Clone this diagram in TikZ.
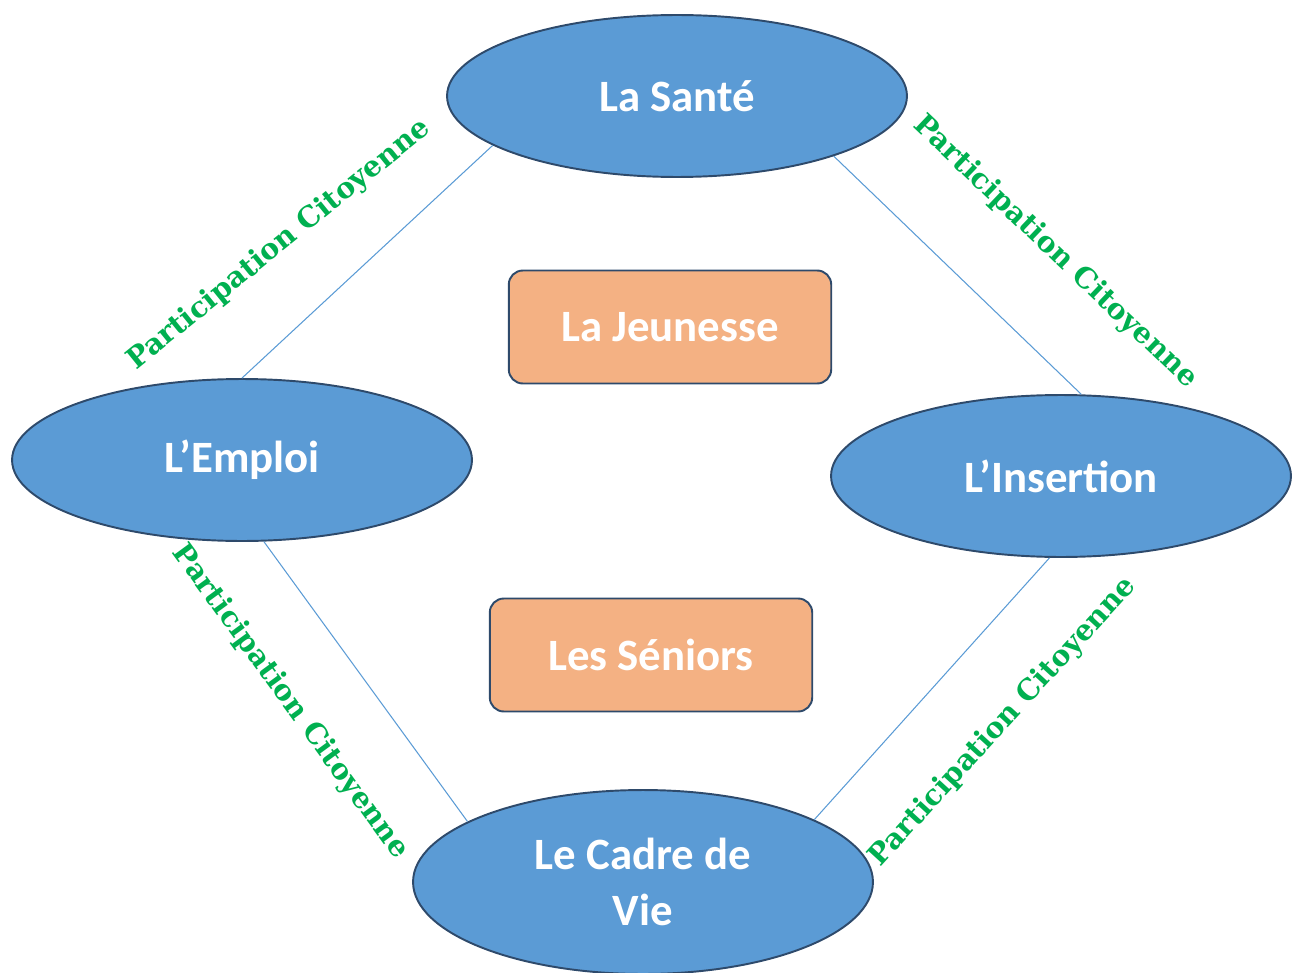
\documentclass[tikz,border=0pt]{standalone}
\usepackage{fontspec}
\setmainfont{Carlito}
\newfontfamily\citfont{DejaVu Serif}
\usepackage{tikz}
\usetikzlibrary{shapes.geometric}
\definecolor{bleu}{HTML}{5B9BD5}
\definecolor{bord}{HTML}{2E4A6B}
\definecolor{saumon}{HTML}{F4B183}
\definecolor{vert}{HTML}{00B050}
\tikzset{
	theme/.style={ellipse,draw=bord,line width=1.1pt,fill=bleu,minimum width=9.2cm,minimum height=3.24cm,inner sep=0pt,text=white,align=center,font=\bfseries\fontsize{25.5}{31.5}\selectfont},
	public/.style={rectangle,rounded corners=8pt,draw=bord,line width=1.1pt,fill=saumon,minimum width=6.45cm,minimum height=2.26cm,text=white,font=\bfseries\fontsize{25.5}{31.5}\selectfont},
	lien/.style={draw=bleu,line width=0.6pt},
	citoyen/.style={text=vert,font=\citfont\bfseries\fontsize{16.3}{19}\selectfont}
}

\begin{document}
\begin{tikzpicture}[x=0.02cm,y=-0.02cm]
\useasboundingbox (0,0) rectangle (1294,973);

%Les thèmes
\node[theme] (sante) at (677,96) {La Santé};
\node[theme] (emploi) at (242,460) {L’Emploi};
\node[theme] (insertion) at (1061,476) {L’Insertion};
\node[theme,minimum height=3.68cm] (cadre) at (643,882) {Le Cadre de\\Vie};

%Les publics
\node[public] (jeunesse) at (670,327) {La Jeunesse};
\node[public] (seniors) at (651,655) {Les Séniors};

%Liens
\draw[lien] (sante.195.3) -- (emploi.north);
\draw[lien] (sante.339) -- (insertion.76.8);
\draw[lien] (emploi.285) -- (cadre.161.5);
\draw[lien] (insertion.262.4) -- (cadre.20.9);

%Participation citoyenne
\node[citoyen,rotate=39] (pcA) at (279,245) {Participation Citoyenne};
\node[citoyen,rotate=-43.6] (pcB) at (1055,252) {Participation Citoyenne};
\node[citoyen,rotate=-53.9] (pcC) at (290,702) {Participation Citoyenne};
\node[citoyen,rotate=47.5] (pcD) at (1003,722) {Participation Citoyenne};

\end{tikzpicture}
\end{document}
